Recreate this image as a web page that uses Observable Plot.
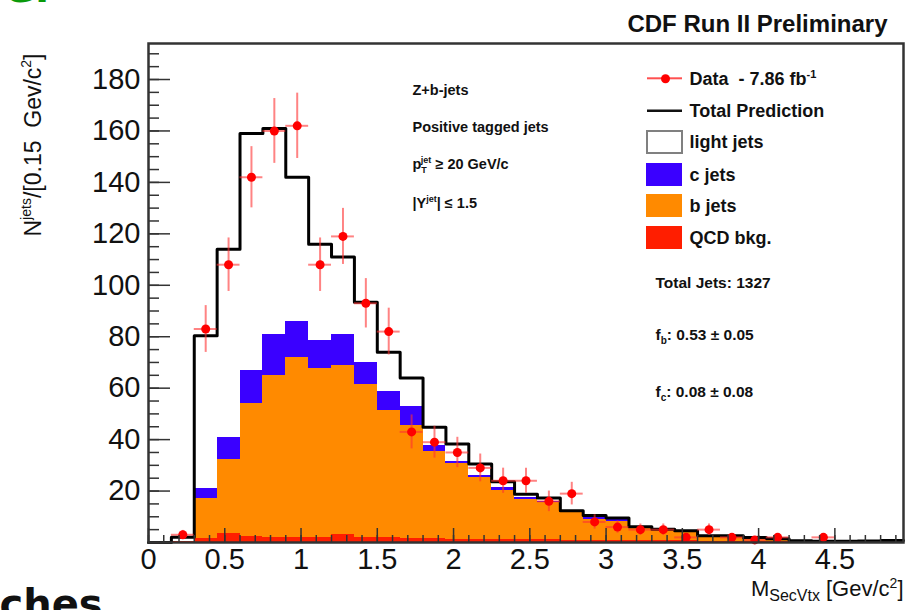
<!DOCTYPE html>
<html><head><meta charset="utf-8">
<script src="https://cdn.jsdelivr.net/npm/d3@7"></script>
<script src="https://cdn.jsdelivr.net/npm/@observablehq/plot@0.6"></script>
<style>
html,body{margin:0;padding:0;background:#fff;overflow:hidden;}
</style></head><body><div id="chart"></div>
<script>
// ---- data ----
const binLow = [0,0.15,0.3,0.45,0.6,0.75,0.9,1.05,1.2,1.35,1.5,1.65,1.8,1.95,2.1,2.25,2.4,2.55,2.7,2.85,3.0,3.15,3.3,3.45,3.6,3.75,3.9,4.05,4.2,4.35,4.5,4.65,4.8];
const binWidth = 0.15;
const dataCounts = [0,3,83,108,142,160,162,108,119,93,82,43,39,35,29,24,24,16,19,8,6,5,5,2,5,2,1,2,0,2,0,0,0];
const dataErrors = [0,1.7,9.1,10.4,11.9,12.6,12.7,10.4,10.9,9.6,9.1,6.6,6.2,5.9,5.4,4.9,4.9,4,4.4,2.8,2.4,2.2,2.2,1.4,2.2,1.4,1,1.4,0,1.4,0,0,0];
const qcdBkg   = [0,0.5,1.5,3.5,2.2,2,2,1.8,3,2,1.8,1.5,1.5,1.3,1.2,1.1,1,1,0.9,0.8,0.8,0.7,0.7,0.6,0.5,0.5,0.4,0.4,0.3,0.3,0.3,0.3,0.3];
const bJets    = [0,0,15.5,28.9,51.8,63,70,65.7,66,59.4,49.7,43.9,34,29.5,24.1,19.3,15.9,14.6,10.8,8.2,7.5,4.9,4,3.6,1.8,1.8,1.3,1.0,0.4,0.2,0.2,0.3,0.5];
const cJets    = [0,0,4,8.6,13,16,14,11,12,8.6,7.2,7.6,2.1,0.7,0.7,0.9,0.6,0.4,0.3,0.8,0.7,0.3,0.3,0.2,0.2,0.2,0.1,0.05,0,0,0,0,0];
const lightJets= [0,1.5,59.4,73,92,80,56,37.5,30,23.4,15.3,11,7.2,6.8,4.5,2.3,1.3,1.3,0.3,0.7,0.5,0.2,0.2,0.2,0.1,0.1,0.1,0.05,0,0,0,0,0];
const componentNames = ["QCD bkg.","b jets","c jets","light jets"];
const componentColors = ["#ff1e00","#ff8a00","#3a00ff","#ffffff"];
const xTickLabels = [0,0.5,1,1.5,2,2.5,3,3.5,4,4.5];
const yTickLabels = [20,40,60,80,100,120,140,160,180];

// ---- derived tables ----
const componentValues = [qcdBkg, bJets, cJets, lightJets];
const stacked = [];
binLow.forEach((x1, i) => {
  let y = 0;
  componentValues.forEach((vals, k) => {
    const v = vals[i];
    stacked.push({x1, x2: x1 + binWidth, y1: y, y2: y + v, fill: componentColors[k]});
    y += v;
  });
});
const totals = binLow.map((_, i) => d3.sum(componentValues, vals => vals[i]));
const totalLine = binLow.map((x, i) => ({x, y: totals[i]}))
  .concat([{x: binLow[binLow.length - 1] + binWidth, y: totals[totals.length - 1]}]);
const points = binLow.map((x, i) => ({x: x + binWidth / 2, lo: x, hi: x + binWidth, n: dataCounts[i], e: dataErrors[i]}))
  .filter(d => d.n > 0);

// ---- layout ----
const W = 906, H = 610, mL = 148, mR = 3, mT = 43, mB = 68;
const innerW = W - mL - mR, innerH = H - mT - mB;
const F = "Liberation Sans, Arial, Helvetica, sans-serif";

function txt(text, X, Y, o = {}) {
  return Plot.text([text], {
    text: d => d, frameAnchor: "top-left", dx: X - mL, dy: Y - mT,
    textAnchor: o.anchor || "start", lineAnchor: "middle",
    fontSize: o.size || 18, fontWeight: o.weight || "bold", fill: o.fill || "#111",
    fontFamily: o.family || F, rotate: o.rotate || 0
  });
}
function box(x1, y1, x2, y2, fill, stroke) {
  return Plot.rect([0], {
    insetLeft: x1 - mL, insetRight: W - mR - x2, insetTop: y1 - mT, insetBottom: H - mB - y2,
    fill, stroke: stroke || "none", strokeWidth: stroke ? 2 : 0
  });
}

const chart = Plot.plot({
  width: W, height: H,
  marginLeft: mL, marginRight: mR, marginTop: mT, marginBottom: mB,
  style: {fontFamily: F, background: "#fff"},
  x: {domain: [0, 4.95], label: null},
  y: {domain: [0, 194], label: null},
  color: {type: "identity"},
  marks: [
    Plot.rect(stacked, {x1: "x1", x2: "x2", y1: "y1", y2: "y2", fill: "fill", shapeRendering: "crispEdges"}),
    Plot.line(totalLine, {x: "x", y: "y", curve: "step-after", stroke: "#000", strokeWidth: 3}),
    Plot.ruleX(points, {x: "x", y1: d => d.n - d.e, y2: d => d.n + d.e, stroke: "#ff3030", strokeOpacity: 0.6, strokeWidth: 2}),
    Plot.ruleY(points, {y: "n", x1: "lo", x2: "hi", stroke: "#ff3030", strokeOpacity: 0.6, strokeWidth: 2}),
    Plot.dot(points, {x: "x", y: "n", r: 4.5, fill: "#ff0000", stroke: "none"}),
    // inner ticks
    Plot.tickY(d3.range(0, 194, 5), {y: d => d, insetRight: innerW - 11, stroke: "#333", strokeWidth: 1.5}),
    Plot.tickY(d3.range(0, 194, 20), {y: d => d, insetRight: innerW - 22, stroke: "#333", strokeWidth: 1.5}),
    Plot.tickX(d3.range(0, 4.95, 0.1), {x: d => d, insetTop: innerH - 7, stroke: "#333", strokeWidth: 1.5}),
    Plot.tickX(xTickLabels, {x: d => d, insetTop: innerH - 14, stroke: "#333", strokeWidth: 1.5}),
    Plot.frame({stroke: "#333", strokeWidth: 2.5}),
    Plot.axisX(xTickLabels, {tickSize: 0, tickPadding: 6, fontSize: 29, fill: "#111", tickFormat: d => String(d)}),
    Plot.axisY(yTickLabels, {tickSize: 0, tickPadding: 8, fontSize: 29, fill: "#111"}),
    // titles
    txt("CDF Run II Preliminary", 887, 23.5, {anchor: "end", size: 24}),
    txt("@@ytitle", 33, 236, {size: 23, weight: "normal", rotate: -90}),
    txt("@@xtitle", 903, 588, {anchor: "end", size: 22, weight: "normal"}),
    // annotations
    txt("Z+b-jets", 412, 90, {size: 14.5}),
    txt("Positive tagged jets", 412, 126.7, {size: 14.5}),
    txt("@@ann3", 412, 164, {size: 14.5}),
    txt("@@ann4", 412, 202.7, {size: 14.5}),
    txt("Total Jets: 1327", 655, 282.7, {size: 15.5}),
    txt("@@stat2", 655, 335, {size: 15.5}),
    txt("@@stat3", 655, 391.7, {size: 15.5}),
    // legend
    box(647, 77.3, 682, 79.3, "#ff5050"),
    Plot.dot([0], {frameAnchor: "top-left", dx: 665 - mL, dy: 78.3 - mT, r: 4.5, fill: "#ff0000"}),
    box(647, 109.5, 682, 112, "#111"),
    box(647, 131, 682, 153, "#ffffff", "#808080"),
    box(646, 163, 682, 186, componentColors[2]),
    box(646, 194, 682, 217, componentColors[1]),
    box(646, 226, 682, 249, componentColors[0]),
    txt("@@leg1", 689, 78.3),
    txt("Total Prediction", 689, 110.7),
    txt(componentNames[3], 689, 142),
    txt(componentNames[2], 689, 174.5),
    txt(componentNames[1], 689, 205.5),
    txt(componentNames[0], 689, 237.7),
    // slide remnants (cut by the picture edge in the reference too)
    txt("ches", -1, 605, {size: 40, family: "DejaVu Sans", fill: "#111"}),
    txt("Gl", 2, -11, {size: 40, family: "DejaVu Sans", fill: "#0a9a0a"})
  ]
});
document.getElementById("chart").appendChild(chart);

function rich(key, parts) {
  const t = Array.from(chart.querySelectorAll("text")).find(el => el.textContent === key);
  if (!t) return;
  while (t.firstChild) t.removeChild(t.firstChild);
  let cur = 0;
  for (const [s, kind, size, shift, dx] of parts) {
    const ts = document.createElementNS("http://www.w3.org/2000/svg", "tspan");
    const target = kind === "sup" ? -shift : kind === "sub" ? shift : 0;
    if (target !== cur) ts.setAttribute("dy", target - cur);
    cur = target;
    if (size) ts.setAttribute("font-size", size);
    if (dx) ts.setAttribute("dx", dx);
    ts.textContent = s;
    t.appendChild(ts);
  }
}
rich("@@ytitle", [["N"], ["jets", "sup", 14, 10], ["/[0.15  Gev/c"], ["2", "sup", 14, 10], ["]"]]);
rich("@@xtitle", [["M"], ["SecVtx", "sub", 16, 5], [" [Gev/c"], ["2", "sup", 14, 8], ["]"]]);
rich("@@ann3", [["p"], ["T", "sub", 9, 4], ["jet", "sup", 9, 6, -6], [" ≥ 20 GeV/c"]]);
rich("@@ann4", [["|Y"], ["jet", "sup", 9, 6], ["| ≤ 1.5"]]);
rich("@@stat2", [["f"], ["b", "sub", 10, 4], [": 0.53 ± 0.05"]]);
rich("@@stat3", [["f"], ["c", "sub", 10, 4], [": 0.08 ± 0.08"]]);
rich("@@leg1", [["Data  - 7.86 fb"], ["-1", "sup", 11, 7], [""]]);
</script></body></html>
